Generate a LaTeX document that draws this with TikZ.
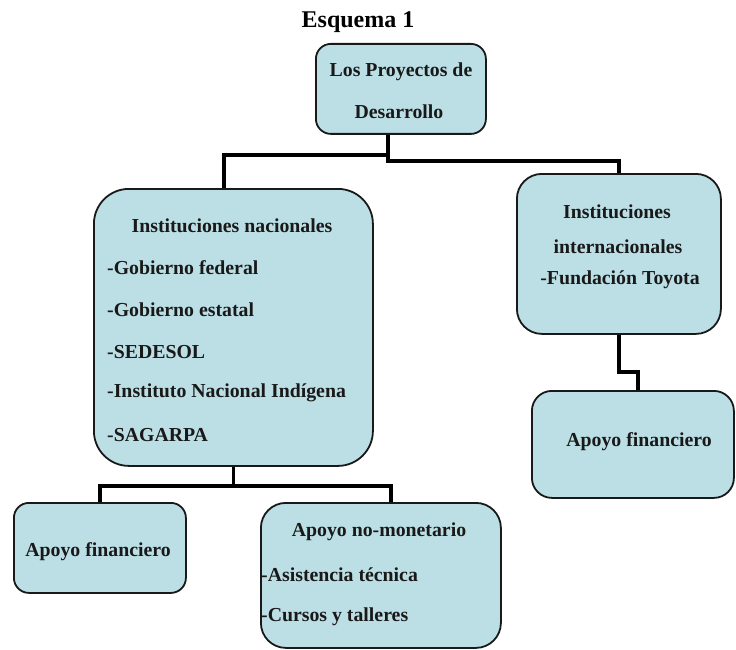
\documentclass[tikz,border=0pt]{standalone}
\usepackage{fontspec}
\usetikzlibrary{calc}
\setmainfont{Liberation Serif}
\definecolor{boxfill}{RGB}{188,223,229}
\tikzset{
  box/.style={draw=black!90, line width=1.8pt, fill=boxfill, rounded corners=#1, anchor=north west, inner sep=0pt},
  conn/.style={line width=3.5pt, draw=black},
  lbl/.style={font=\bfseries\fontsize{19.8}{23}\selectfont, inner sep=0pt, text=black!90},
  ttl/.style={font=\bfseries\fontsize{24}{28}\selectfont, inner sep=0pt},
}
\begin{document}
\begin{tikzpicture}[x=1pt,y=-1pt]
\useasboundingbox (0,0) rectangle (736,650);
% title
\node[ttl] (title) at (358,22) {Esquema 1};
% boxes
\node[box=15pt, minimum width=170pt, minimum height=90pt] (top) at (315,43) {};
\node[box=35pt, minimum width=279pt, minimum height=277pt] (nac) at (93,188) {};
\node[box=25pt, minimum width=204pt, minimum height=160pt] (intl) at (516,173) {};
\node[box=20pt, minimum width=202pt, minimum height=107pt] (apr) at (531,390) {};
\node[box=15pt, minimum width=172pt, minimum height=90pt] (apl) at (13,502) {};
\node[box=25pt, minimum width=240pt, minimum height=145pt] (anm) at (260,502) {};
% connectors
\coordinate (j1) at (388,155);
\coordinate (j2) at (388,161);
\draw[conn] (top.south -| j1) -- (j1) -| ([xshift=-9.5pt]nac.north);
\draw[conn] (j1) -- (j2) -| (intl.north);
\coordinate (j3) at ($(intl.south)+(0,37)$);
\draw[conn] (intl.south) -- (j3) -| ([xshift=5pt]apr.north);
\coordinate (j4) at ($(nac.south)+(0,19)$);
\draw[conn] (nac.south) -- (j4);
\draw[conn] (apl.north) |- (j4) -| ([xshift=10pt]anm.north);
% texts
\node[lbl] (t1) at (401,72) {Los Proyectos de};
\node[lbl] (t2) at (399,112) {Desarrollo};
\node[lbl] (n1) at (232,226) {Instituciones nacionales};
\node[lbl, anchor=west] (n2) at (107,268) {-Gobierno federal};
\node[lbl, anchor=west] (n3) at (107,310) {-Gobierno estatal};
\node[lbl, anchor=west] (n4) at (107,352) {-SEDESOL};
\node[lbl, anchor=west] (n5) at (107,393) {-Instituto Nacional Indígena};
\node[lbl, anchor=west] (n6) at (107,435) {-SAGARPA};
\node[lbl] (i1) at (617,212) {Instituciones};
\node[lbl] (i2) at (618,247) {internacionales};
\node[lbl] (i3) at (620,280) {-Fundación Toyota};
\node[lbl] (a1) at (639,442) {Apoyo financiero};
\node[lbl] (b1) at (98,552) {Apoyo financiero};
\node[lbl] (m1) at (379,532) {Apoyo no-monetario};
\node[lbl, anchor=west] (m2) at (261,575) {-Asistencia técnica};
\node[lbl, anchor=west] (m3) at (261,617) {-Cursos y talleres};
\end{tikzpicture}
\end{document}
